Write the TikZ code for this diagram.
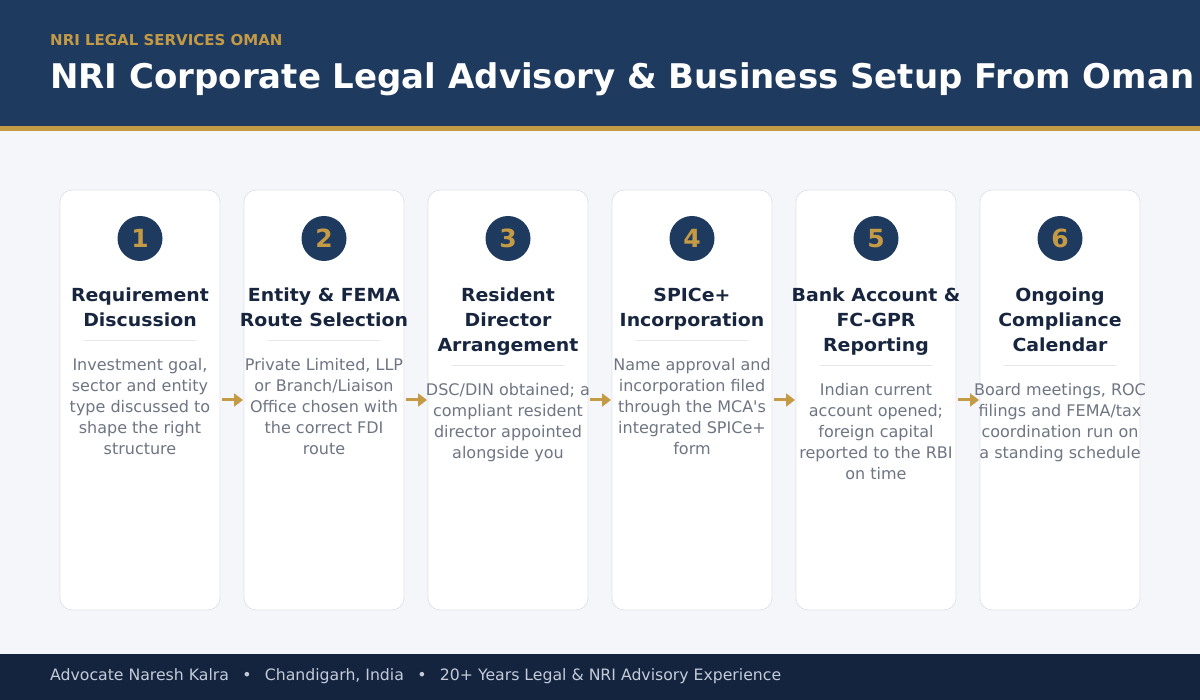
\documentclass[tikz,border=0pt]{standalone}
\usepackage{fontspec}
\setmainfont{DejaVu Sans}[Ligatures=TeXOff]
\newfontfamily\cardfont{DejaVu Sans}[Ligatures=TeXOff, FakeStretch=1.05]
\usetikzlibrary{arrows.meta}
\definecolor{navy}{HTML}{1F3A5F}
\definecolor{gold}{HTML}{C49A45}
\definecolor{footbg}{HTML}{14243F}
\definecolor{pagebg}{HTML}{F5F6FA}
\definecolor{cardline}{HTML}{E1E4EC}
\definecolor{titlecol}{HTML}{17253F}
\definecolor{desccol}{HTML}{6E7583}
\definecolor{footcol}{HTML}{C3CBD8}
\definecolor{sepcol}{HTML}{E5E7EB}
\tikzset{
  card/.style={draw=cardline, line width=0.8pt, fill=white, rounded corners=12pt, minimum width=160pt, minimum height=420pt, inner sep=0pt},
  badge/.style={circle, fill=navy, minimum size=45pt, inner sep=0pt, text=gold, font=\fontsize{25}{25}\selectfont\bfseries},
  ttl/.style={anchor=base, inner sep=0pt, yshift=-1.5pt, text=titlecol, font=\cardfont\fontsize{18}{20}\selectfont\bfseries},
  dsc/.style={anchor=base, inner sep=0pt, yshift=-1.5pt, text=desccol, font=\fontsize{16}{18}\selectfont},
  sep/.style={draw=sepcol, line width=1pt},
  arr/.style={draw=gold, line width=3pt, -{Triangle[length=9pt,width=13pt]}},
}
\begin{document}
\begin{tikzpicture}[x=1pt,y=-1pt]
\useasboundingbox (0,0) rectangle (1200,700);
\fill[pagebg] (0,0) rectangle (1200,700);
\fill[navy] (0,0) rectangle (1200,126);
\fill[gold] (0,126) rectangle (1200,131);
\fill[footbg] (0,654) rectangle (1200,700);
\node[anchor=base west, inner sep=0pt, text=gold, font=\fontsize{15}{16}\selectfont\bfseries] (sub) at (50,45.5) {NRI LEGAL SERVICES OMAN};
\node[anchor=base west, inner sep=0pt, text=white, font=\fontsize{34}{36}\selectfont\bfseries] (title) at (50,88.5) {NRI Corporate Legal Advisory \& Business Setup From Oman};
\node[anchor=base west, inner sep=0pt, text=footcol, font=\fontsize{15.7}{18}\selectfont] (foot) at (50,680) {Advocate Naresh Kalra\hspace{0.85em}•\hspace{0.85em}Chandigarh, India\hspace{0.85em}•\hspace{0.85em}20+ Years Legal \& NRI Advisory Experience};

% cards
\node[card] (c1) at (140,400) {};
\node[card] (c2) at (324,400) {};
\node[card] (c3) at (508,400) {};
\node[card] (c4) at (692,400) {};
\node[card] (c5) at (876,400) {};
\node[card] (c6) at (1060,400) {};

\node[badge] (b1) at (140,238.5) {1};
\node[badge] (b2) at (324,238.5) {2};
\node[badge] (b3) at (508,238.5) {3};
\node[badge] (b4) at (692,238.5) {4};
\node[badge] (b5) at (876,238.5) {5};
\node[badge] (b6) at (1060,238.5) {6};

% card 1
\node[ttl] (t1a) at (140,300) {Requirement};
\node[ttl] (t1b) at (140,325) {Discussion};
\draw[sep] (84,340.5) -- (196,340.5);
\node[dsc] (d1a) at (140,369) {Investment goal,};
\node[dsc] (d1b) at (140,390) {sector and entity};
\node[dsc] (d1c) at (140,411) {type discussed to};
\node[dsc] (d1d) at (140,432) {shape the right};
\node[dsc] (d1e) at (140,453) {structure};

% card 2
\node[ttl] (t2a) at (324,300) {Entity \& FEMA};
\node[ttl] (t2b) at (324,325) {Route Selection};
\draw[sep] (268,340.5) -- (380,340.5);
\node[dsc] (d2a) at (324,369) {Private Limited, LLP};
\node[dsc] (d2b) at (324,390) {or Branch/Liaison};
\node[dsc] (d2c) at (324,411) {Office chosen with};
\node[dsc] (d2d) at (324,432) {the correct FDI};
\node[dsc] (d2e) at (324,453) {route};

% card 3
\node[ttl] (t3a) at (508,300) {Resident};
\node[ttl] (t3b) at (508,325) {Director};
\node[ttl] (t3c) at (508,350) {Arrangement};
\draw[sep] (452,365.5) -- (564,365.5);
\node[dsc] (d3a) at (508,394) {DSC/DIN obtained; a};
\node[dsc] (d3b) at (508,415) {compliant resident};
\node[dsc] (d3c) at (508,436) {director appointed};
\node[dsc] (d3d) at (508,457) {alongside you};

% card 4
\node[ttl] (t4a) at (692,300) {SPICe+};
\node[ttl] (t4b) at (692,325) {Incorporation};
\draw[sep] (636,340.5) -- (748,340.5);
\node[dsc] (d4a) at (692,369) {Name approval and};
\node[dsc] (d4b) at (692,390) {incorporation filed};
\node[dsc] (d4c) at (692,411) {through the MCA's};
\node[dsc] (d4d) at (692,432) {integrated SPICe+};
\node[dsc] (d4e) at (692,453) {form};

% card 5
\node[ttl] (t5a) at (876,300) {Bank Account \&};
\node[ttl] (t5b) at (876,325) {FC-GPR};
\node[ttl] (t5c) at (876,350) {Reporting};
\draw[sep] (820,365.5) -- (932,365.5);
\node[dsc] (d5a) at (876,394) {Indian current};
\node[dsc] (d5b) at (876,415) {account opened;};
\node[dsc] (d5c) at (876,436) {foreign capital};
\node[dsc] (d5d) at (876,457) {reported to the RBI};
\node[dsc] (d5e) at (876,478) {on time};

% card 6
\node[ttl] (t6a) at (1060,300) {Ongoing};
\node[ttl] (t6b) at (1060,325) {Compliance};
\node[ttl] (t6c) at (1060,350) {Calendar};
\draw[sep] (1004,365.5) -- (1116,365.5);
\node[dsc] (d6a) at (1060,394) {Board meetings, ROC};
\node[dsc] (d6b) at (1060,415) {filings and FEMA/tax};
\node[dsc] (d6c) at (1060,436) {coordination run on};
\node[dsc] (d6d) at (1060,457) {a standing schedule};

% arrows
\draw[arr] ([xshift=1.6pt]c1.east) -- ([xshift=-0.6pt]c2.west);
\draw[arr] ([xshift=1.6pt]c2.east) -- ([xshift=-0.6pt]c3.west);
\draw[arr] ([xshift=1.6pt]c3.east) -- ([xshift=-0.6pt]c4.west);
\draw[arr] ([xshift=1.6pt]c4.east) -- ([xshift=-0.6pt]c5.west);
\draw[arr] ([xshift=1.6pt]c5.east) -- ([xshift=-0.6pt]c6.west);
\end{tikzpicture}
\end{document}
